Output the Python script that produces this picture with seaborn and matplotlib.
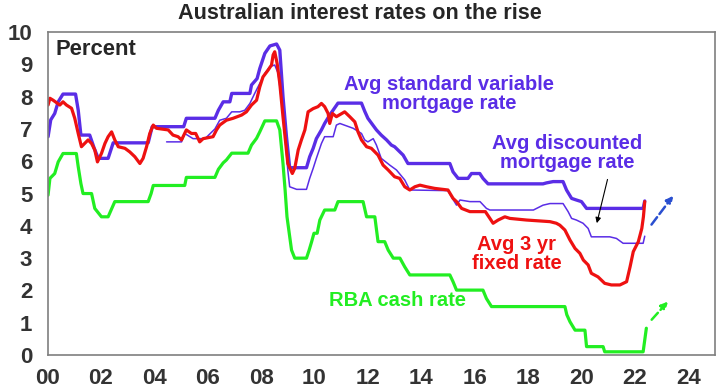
import matplotlib
matplotlib.use("Agg")
import matplotlib.pyplot as plt
import seaborn as sns

# values (decimal year, percent)
svr_x = [2000.02, 2000.12, 2000.27, 2000.4, 2000.58, 2001.05, 2001.15, 2001.25, 2001.58, 2001.75,
         2001.9, 2002.27, 2002.46, 2003.77, 2003.92, 2005.1, 2005.2, 2006.27, 2006.4, 2006.58,
         2006.83, 2006.9, 2007.58, 2007.64, 2007.85, 2007.95, 2008.14, 2008.33, 2008.58, 2008.7,
         2008.82, 2008.95, 2009.07, 2009.7, 2009.82, 2009.95, 2010.07, 2010.26, 2010.38, 2010.57,
         2010.88, 2011.76, 2011.88, 2012.0, 2012.32, 2012.5, 2012.7, 2012.88, 2013.0, 2013.32,
         2013.5, 2015.07, 2015.19, 2015.38, 2015.75, 2015.88, 2016.19, 2016.31, 2016.5, 2018.56,
         2018.69, 2018.94, 2019.31, 2019.44, 2019.63, 2019.81, 2020.0, 2020.19, 2022.31, 2022.37]
svr_y = [6.76, 7.28, 7.48, 7.84, 8.08, 8.08, 7.58, 6.81, 6.81, 6.4,
         6.09, 6.09, 6.57, 6.57, 7.07, 7.07, 7.33, 7.33, 7.58, 7.84,
         7.84, 8.1, 8.1, 8.36, 8.56, 8.87, 9.34, 9.57, 9.63, 9.44,
         8.0, 6.76, 5.8, 5.8, 6.14, 6.4, 6.7, 6.97, 7.17, 7.43,
         7.8, 7.8, 7.55, 7.33, 6.97, 6.81, 6.66, 6.5, 6.45, 6.19,
         5.93, 5.93, 5.67, 5.47, 5.47, 5.62, 5.62, 5.47, 5.3, 5.3,
         5.33, 5.37, 5.37, 5.11, 4.85, 4.8, 4.75, 4.54, 4.54, 4.77]

disc_x = [2004.46, 2005.02, 2005.14, 2005.45, 2005.9, 2006.27, 2006.45, 2006.7, 2006.9, 2007.2,
          2007.39, 2007.58, 2007.76, 2007.95, 2008.14, 2008.33, 2008.51, 2008.64, 2008.82, 2009.0,
          2009.07, 2009.33, 2009.7, 2009.82, 2009.95, 2010.07, 2010.26, 2010.38, 2010.7, 2010.82,
          2010.95, 2011.45, 2011.76, 2011.88, 2012.0, 2012.2, 2012.32, 2012.5, 2012.82, 2013.07,
          2013.38, 2013.57, 2015.0, 2015.13, 2015.32, 2015.45, 2015.82, 2016.2, 2016.44, 2016.57,
          2018.2, 2018.56, 2018.82, 2019.31, 2019.5, 2019.63, 2019.81, 2020.06, 2020.25, 2020.37,
          2021.06, 2021.31, 2021.56, 2022.31, 2022.37]
disc_y = [6.6, 6.6, 6.86, 6.7, 6.7, 7.0, 7.27, 7.33, 7.53, 7.53,
          7.58, 7.79, 8.1, 8.41, 8.72, 8.93, 8.98, 8.72, 7.48, 5.73,
          5.21, 5.13, 5.13, 5.47, 5.78, 6.09, 6.55, 6.76, 6.76, 7.12,
          7.17, 7.02, 6.86, 6.66, 6.6, 6.7, 6.5, 6.09, 5.88, 5.73,
          5.42, 5.11, 5.09, 4.9, 4.64, 4.8, 4.75, 4.75, 4.54, 4.49,
          4.49, 4.64, 4.69, 4.69, 4.44, 4.23, 4.18, 4.08, 3.92, 3.66,
          3.66, 3.61, 3.46, 3.46, 3.68]

fix_x = [2000.02, 2000.09, 2000.21, 2000.46, 2000.58, 2000.71, 2000.9, 2001.02, 2001.15, 2001.27,
         2001.52, 2001.65, 2001.77, 2001.87, 2002.02, 2002.15, 2002.27, 2002.4, 2002.52, 2002.65,
         2002.9, 2003.08, 2003.27, 2003.46, 2003.58, 2003.71, 2003.83, 2003.96, 2004.08, 2004.52,
         2004.7, 2004.89, 2005.02, 2005.2, 2005.39, 2005.55, 2005.7, 2005.83, 2006.2, 2006.33,
         2006.45, 2006.7, 2006.95, 2007.27, 2007.45, 2007.64, 2007.83, 2007.95, 2008.07, 2008.26,
         2008.39, 2008.45, 2008.51, 2008.6, 2008.7, 2008.82, 2009.0, 2009.17, 2009.26, 2009.39,
         2009.51, 2009.64, 2009.76, 2009.95, 2010.13, 2010.26, 2010.38, 2010.51, 2010.57, 2010.67,
         2010.82, 2011.13, 2011.32, 2011.51, 2011.63, 2011.76, 2011.95, 2012.13, 2012.38, 2012.57,
         2012.76, 2013.0, 2013.19, 2013.38, 2013.57, 2013.76, 2013.95, 2014.2, 2014.5, 2015.0,
         2015.19, 2015.32, 2015.51, 2015.82, 2016.19, 2016.4, 2016.57, 2016.69, 2016.88, 2017.13,
         2017.32, 2017.94, 2018.82, 2019.06, 2019.19, 2019.38, 2019.57, 2019.76, 2019.94, 2020.07,
         2020.25, 2020.37, 2020.62, 2020.87, 2021.12, 2021.44, 2021.69, 2021.82, 2021.94, 2022.13,
         2022.26, 2022.32, 2022.37]
fix_y = [7.74, 7.95, 7.89, 7.74, 7.84, 7.74, 7.64, 7.33, 6.86, 6.45,
         6.66, 6.55, 6.35, 5.98, 6.24, 6.55, 6.76, 6.91, 6.66, 6.45,
         6.4, 6.29, 6.14, 5.93, 6.09, 6.45, 6.86, 7.12, 7.02, 6.97,
         6.81, 6.76, 6.66, 6.97, 6.86, 6.86, 6.6, 6.7, 6.76, 6.97,
         7.12, 7.27, 7.33, 7.43, 7.53, 7.74, 7.89, 8.3, 8.61, 8.82,
         8.98, 9.29, 9.39, 9.03, 8.41, 7.38, 5.93, 5.62, 5.78, 6.35,
         6.66, 6.97, 7.53, 7.63, 7.69, 7.79, 7.69, 7.48, 7.17, 7.48,
         7.38, 7.53, 7.38, 7.22, 6.91, 6.66, 6.45, 6.4, 6.19, 5.88,
         5.73, 5.52, 5.47, 5.21, 5.11, 5.21, 5.26, 5.21, 5.16, 5.11,
         4.85, 4.75, 4.54, 4.44, 4.44, 4.44, 4.23, 4.08, 4.18, 4.28,
         4.23, 4.18, 4.13, 4.08, 4.02, 3.87, 3.56, 3.3, 3.15, 2.94,
         2.79, 2.53, 2.42, 2.22, 2.17, 2.17, 2.27, 2.73, 3.2, 3.51,
         3.92, 4.28, 4.75]

cash_x = [2000.02, 2000.09, 2000.27, 2000.4, 2000.58, 2001.08, 2001.15, 2001.25, 2001.33, 2001.65,
          2001.77, 2002.02, 2002.27, 2002.52, 2003.77, 2003.88, 2003.96, 2005.14, 2005.2, 2006.27,
          2006.4, 2006.58, 2006.7, 2006.9, 2007.51, 2007.64, 2007.83, 2007.95, 2008.14, 2008.58,
          2008.7, 2008.82, 2008.9, 2008.97, 2009.14, 2009.26, 2009.7, 2009.8, 2009.89, 2009.98,
          2010.1, 2010.2, 2010.38, 2010.76, 2010.88, 2011.82, 2011.95, 2012.26, 2012.38, 2012.63,
          2012.76, 2012.95, 2013.2, 2013.38, 2013.57, 2015.07, 2015.19, 2015.32, 2016.31, 2016.44,
          2016.63, 2019.38, 2019.45, 2019.57, 2019.76, 2020.13, 2020.19, 2020.81, 2020.87, 2022.31,
          2022.43]
cash_y = [4.95, 5.47, 5.62, 5.98, 6.24, 6.24, 5.83, 5.31, 5.0, 5.0,
          4.54, 4.28, 4.28, 4.75, 4.75, 5.0, 5.25, 5.25, 5.5, 5.5,
          5.75, 5.95, 6.04, 6.25, 6.25, 6.5, 6.71, 6.91, 7.25, 7.25,
          6.97, 5.93, 5.1, 4.28, 3.25, 3.0, 3.0, 3.25, 3.5, 3.77,
          3.77, 4.18, 4.49, 4.49, 4.75, 4.75, 4.28, 4.28, 3.51, 3.51,
          3.25, 3.0, 3.0, 2.73, 2.48, 2.48, 2.27, 2.01, 2.01, 1.75,
          1.5, 1.5, 1.25, 1.03, 0.77, 0.77, 0.26, 0.26, 0.1, 0.1,
          0.83]

year_ticks = list(range(2000, 2025, 2))
year_labels = ["00", "02", "04", "06", "08", "10", "12", "14", "16", "18", "20", "22", "24"]

PURPLE = "#5a2de6"
RED = "#ee1111"
GREEN = "#22ee22"

sns.set_style("white")
plt.rcParams["font.family"] = ["Liberation Sans", "DejaVu Sans"]

fig, ax = plt.subplots(figsize=(7.2, 3.91), dpi=100)
fig.subplots_adjust(left=0.066, right=0.993, bottom=0.092, top=0.918)

sns.lineplot(x=cash_x, y=cash_y, ax=ax, color=GREEN, linewidth=2.3, sort=False, estimator=None)
sns.lineplot(x=disc_x, y=disc_y, ax=ax, color=PURPLE, linewidth=1.1, sort=False, estimator=None)
sns.lineplot(x=svr_x, y=svr_y, ax=ax, color=PURPLE, linewidth=2.4, sort=False, estimator=None)
sns.lineplot(x=fix_x, y=fix_y, ax=ax, color=RED, linewidth=2.3, sort=False, estimator=None)

# dashed arrows showing the expected path
ax.annotate("", xy=(2023.5, 5.0), xytext=(2022.56, 3.97),
            arrowprops=dict(arrowstyle="-|>", linestyle="--", color="#2a4fd0", lw=1.8,
                            mutation_scale=10))
ax.annotate("", xy=(2023.31, 1.72), xytext=(2022.56, 1.03),
            arrowprops=dict(arrowstyle="-|>", linestyle="--", color=GREEN, lw=1.8,
                            mutation_scale=10))
ax.annotate("", xy=(2020.55, 4.0), xytext=(2021.0, 5.52),
            arrowprops=dict(arrowstyle="-|>", color="black", lw=0.8, mutation_scale=8))

lab = dict(fontsize=14.5, fontweight="bold", ha="center", va="center", linespacing=1.0)
ax.text(2015.03, 8.08, "Avg standard variable\nmortgage rate", color=PURPLE, **lab)
ax.text(2019.45, 6.25, "Avg discounted\nmortgage rate", color=PURPLE, **lab)
ax.text(2017.58, 3.13, "Avg 3 yr\nfixed rate", color=RED, **lab)
ax.text(2013.12, 1.70, "RBA cash rate", color=GREEN, **lab)
ax.text(2000.3, 9.45, "Percent", fontsize=15.8, fontweight="bold", ha="left", va="center")

fig.text(0.5, 0.966, "Australian interest rates on the rise", fontsize=15.6,
         fontweight="bold", ha="center", va="center")

ax.set_xlim(2000, 2025)
ax.set_ylim(0, 10)
ax.set_xticks(year_ticks)
ax.set_xticklabels(year_labels)
ax.set_yticks(range(0, 11))
ax.set_xlabel("")
ax.set_ylabel("")
ax.tick_params(axis="both", direction="out", length=4, width=1, color="#7f7f7f",
               labelsize=16, labelcolor="#333333")
ax.tick_params(axis="y", pad=7)
ax.tick_params(axis="x", pad=5)
for t in ax.get_xticklabels() + ax.get_yticklabels():
    t.set_fontweight("bold")
for s in ax.spines.values():
    s.set_visible(True)
    s.set_color("#7f7f7f")
    s.set_linewidth(1.2)

fig.savefig("out.png", dpi=100)
